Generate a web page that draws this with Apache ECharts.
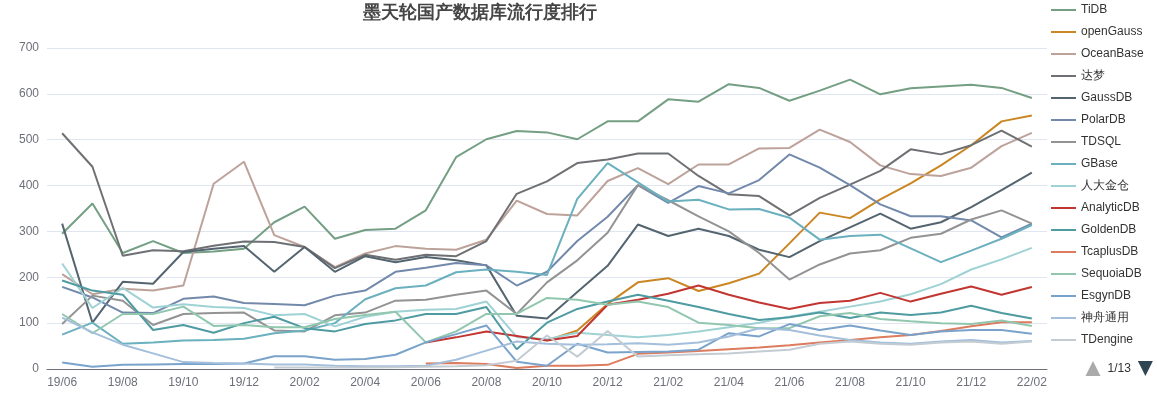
<!DOCTYPE html>
<html>
<head>
<meta charset="utf-8">
<title>墨天轮国产数据库流行度排行</title>
<script src="https://cdn.jsdelivr.net/npm/echarts@6/dist/echarts.min.js"></script>
<style>
	html, body { margin: 0; padding: 0; background: #fff; }
	#main { width: 1157px; height: 398px; }
</style>
</head>
<body>
<div id="main"></div>
<script>
// months on the x axis
var months = ['19/06','19/07','19/08','19/09','19/10','19/11','19/12','20/01','20/02','20/03','20/04','20/05',
	'20/06','20/07','20/08','20/09','20/10','20/11','20/12','21/01','21/02','21/03','21/04','21/05',
	'21/06','21/07','21/08','21/09','21/10','21/11','21/12','22/01','22/02'];

var yTicks = [0, 100, 200, 300, 400, 500, 600, 700];

// popularity scores, one array per database (null = not ranked yet)
var tidb = [295,361,253,279,253,256,262,320,354,284,303,306,346,462,501,519,516,501,540,540,588,583,621,613,585,607,631,599,612,616,620,613,591];
var opengauss = [null,null,null,null,null,null,null,null,null,null,null,null,null,null,null,null,62,84,142,189,198,170,187,208,274,341,329,370,405,444,488,540,553];
var oceanbase = [207,163,175,171,182,404,452,292,266,222,252,268,262,260,282,367,338,335,410,438,403,446,446,481,482,522,495,444,425,421,439,486,515];
var dameng = [514,441,247,259,257,269,278,277,266,220,249,238,249,246,279,382,409,449,457,470,470,421,381,377,335,373,402,432,479,468,488,520,485];
var gaussdb = [317,101,190,186,255,262,268,212,266,212,246,233,244,237,226,116,110,168,225,315,290,306,290,260,244,279,309,339,306,320,353,390,428];
var polardb = [179,156,123,122,153,158,144,142,139,160,171,212,221,231,226,182,212,279,332,401,362,399,383,412,468,439,401,359,333,333,324,287,317];
var tdsql = [98,160,149,96,120,122,123,84,82,117,123,149,151,162,171,120,189,237,297,401,368,333,300,253,195,228,252,259,286,295,326,346,317];
var gbase = [75,101,55,58,62,63,66,78,84,100,152,176,182,211,217,212,205,371,449,407,365,369,348,349,330,282,290,293,263,233,258,284,314];
var kingbase = [230,133,177,134,141,135,133,117,120,93,114,125,129,131,147,70,65,79,74,69,74,82,91,101,114,125,136,147,163,185,217,239,264];
var analyticdb = [null,null,null,null,null,null,null,null,null,null,null,null,58,69,82,72,62,72,140,151,164,182,162,145,131,144,149,166,147,164,180,162,179];
var goldendb = [193,171,162,85,96,79,100,114,89,82,98,106,120,120,135,43,101,131,147,162,149,135,120,107,113,123,111,123,118,123,138,122,110];
var tcaplusdb = [null,null,null,null,null,null,null,null,null,null,null,null,12,13,11,2,7,7,9,33,36,39,43,47,52,58,63,69,74,83,93,102,102];
var sequoiadb = [120,78,120,120,136,94,96,91,91,109,118,125,58,82,120,120,155,151,140,147,135,101,96,89,89,115,122,109,104,100,98,106,94];
var esgyndb = [14,5,9,10,11,11,12,28,28,20,22,31,58,76,95,16,7,55,36,37,38,42,78,71,98,85,95,84,74,82,85,85,77];
var shenzhou = [112,80,53,34,15,13,12,10,10,7,6,6,7,20,40,60,55,53,54,56,53,58,71,89,85,73,63,58,55,60,63,58,61];
var tdengine = [null,null,null,null,null,null,null,3,3,3,3,4,5,6,8,18,73,27,83,27,30,32,34,38,42,55,60,55,53,58,60,55,60];

// names shown on the first legend page
var dbNames = ['TiDB','openGauss','OceanBase','达梦','GaussDB','PolarDB','TDSQL','GBase','人大金仓',
	'AnalyticDB','GoldenDB','TcaplusDB','SequoiaDB','EsgynDB','神舟通用','TDengine'];
var dbValues = [tidb, opengauss, oceanbase, dameng, gaussdb, polardb, tdsql, gbase, kingbase,
	analyticdb, goldendb, tcaplusdb, sequoiadb, esgyndb, shenzhou, tdengine];
var dbColors = ['#749f83','#ca8622','#bda29a','#6e7074','#546570','#7289ab','#939393','#6ab0be','#9fd2d4',
	'#c23531','#4e9ba1','#dc7c5e','#91c7ae','#7aa3cc','#a3bfdb','#c4ccd3'];

// the rest of the ranking only lives on the later legend pages
var otherDbs = ['HotDB','KunDB','虚谷数据库','StarRocks','瀚高数据库','UXDB','ArkDB','TBase','MogDB','Vastbase',
	'GreatDB','AntDB','SinoDB','CirroData','ArgoDB','HashData','OushuDB','RadonDB','DolphinDB','IoTDB',
	'GaussDB(for Redis)'];
var legendPages = 13;

function lineChart(dom) {
	this._dom = dom;
	this._myChart = echarts.init(this._dom, null, { renderer: 'canvas' });

	this._option = {
		animation: false,
		color: dbColors,
		title: {
			text: '墨天轮国产数据库流行度排行',
			left: 358,
			top: -1,
			textStyle: {
				fontSize: 18,
				fontWeight: 'bold',
				color: '#464646'
			}
		},
		legend: {
			type: 'scroll',
			orient: 'vertical',
			left: 1045,
			top: 0,
			height: 372,
			padding: [4, 5, 5, 5],
			itemWidth: 25,
			itemHeight: 14,
			itemGap: 10,
			// plain line icons, no marker dot
			itemStyle: {
				opacity: 0
			},
			textStyle: {
				fontSize: 12,
				color: '#333'
			},
			pageIconColor: '#2f4554',
			pageIconInactiveColor: '#aaa',
			pageIconSize: 15,
			pageTextStyle: {
				color: '#333',
				fontSize: 12
			},
			pageFormatter: '{current}/' + legendPages,
			data: []
		},
		grid: {
			left: 47,
			right: 110,
			top: 48,
			bottom: 29,
			containLabel: false,
			outerBoundsMode: 'none'
		},
		xAxis: {
			type: 'category',
			boundaryGap: true,
			data: months,
			axisLine: {
				lineStyle: {
					color: '#6E7079'
				}
			},
			axisTick: {
				alignWithLabel: true,
				interval: 1,
				lineStyle: {
					color: '#6E7079'
				}
			},
			axisLabel: {
				interval: 1,
				color: '#6E7079',
				fontSize: 12,
				margin: 8
			}
		},
		yAxis: {
			type: 'value',
			min: yTicks[0],
			max: yTicks[yTicks.length - 1],
			interval: 100,
			axisLine: { show: false },
			axisTick: { show: false },
			axisLabel: {
				color: '#6E7079',
				fontSize: 12,
				margin: 8
			},
			splitLine: {
				show: true,
				lineStyle: {
					color: '#E0E6F1'
				}
			}
		},
		series: []
	};
}

lineChart.prototype = {
	constructor: lineChart,

	setDataProvider: function(names, values, extra) {
		if (names == null || names.length == 0) return;
		this._names = names;
		this._values = values;
		this._extra = extra || [];

		this.creationContent();
	},

	creationContent: function() {
		var current = this;
		var legendArr = [];

		current._names.map(function(name, index) {
			legendArr.push(name);
			current._option.series.push({
				name: name,
				type: 'line',
				symbol: 'none',
				lineStyle: { width: 2 },
				data: current._values[index]
			});
		});
		// empty series so the legend can page through the whole ranking
		current._extra.map(function(name) {
			legendArr.push(name);
			current._option.series.push({
				name: name,
				type: 'line',
				symbol: 'none',
				data: []
			});
		});

		current._option.legend.data = legendArr;
		current._myChart.setOption(current._option);
	}
};

var chart = new lineChart(document.getElementById('main'));
chart.setDataProvider(dbNames, dbValues, otherDbs);
</script>
</body>
</html>
